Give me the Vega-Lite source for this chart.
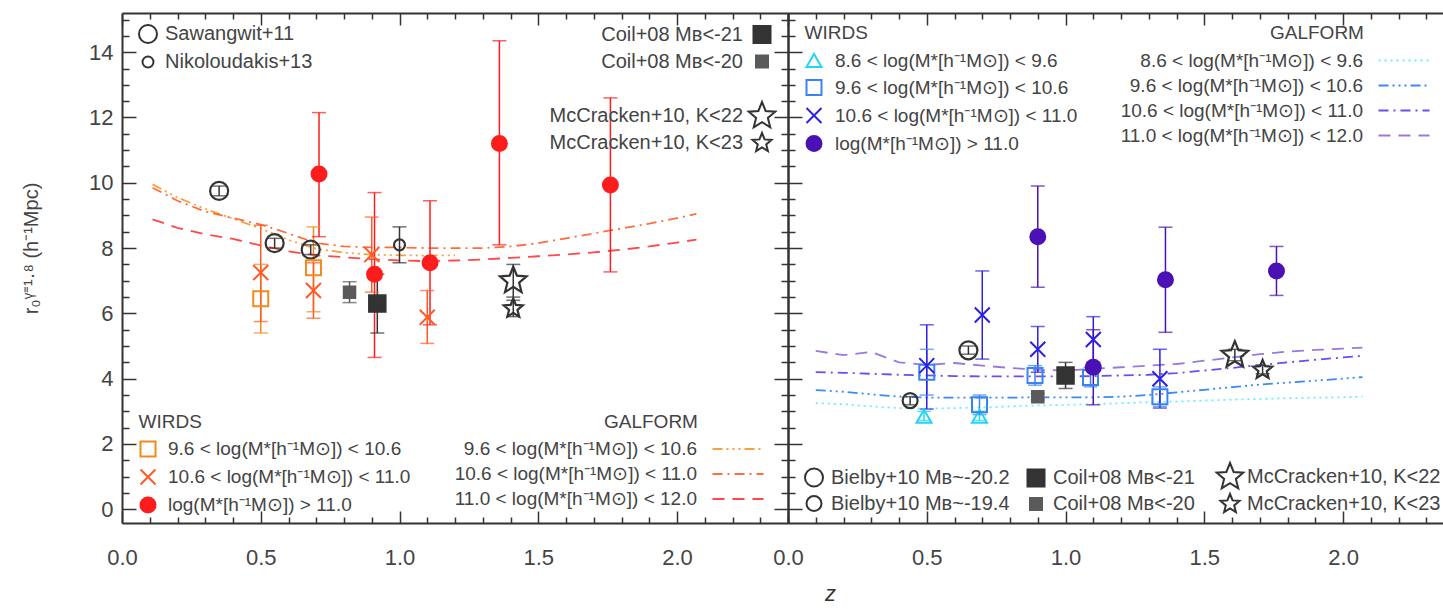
{
"$schema": "https://vega.github.io/schema/vega-lite/v6.json",
"padding": {"left": 21, "top": 8, "right": 0, "bottom": 0},
"datasets": {
"pts": [
{"panel":"L","series":"Sawangwit+11","z":0.35,"r":9.75,"lo":9.6,"hi":9.9},
{"panel":"L","series":"Sawangwit+11","z":0.55,"r":8.15,"lo":8.0,"hi":8.3},
{"panel":"L","series":"Sawangwit+11","z":0.68,"r":7.95,"lo":7.8,"hi":8.1},
{"panel":"L","series":"Nikoloudakis+13","z":1.0,"r":8.1,"lo":7.55,"hi":8.65},
{"panel":"L","series":"Coil+08 Mʙ<-21","z":0.92,"r":6.3,"lo":5.4,"hi":7.2},
{"panel":"L","series":"Coil+08 Mʙ<-20","z":0.82,"r":6.65,"lo":6.33,"hi":6.97},
{"panel":"L","series":"McCracken+10, K<22","z":1.41,"r":7.0,"lo":6.5,"hi":7.5},
{"panel":"L","series":"McCracken+10, K<23","z":1.41,"r":6.15,"lo":5.9,"hi":6.4},
{"panel":"L","series":"9.6 < log(M*[h⁻¹M⊙]) < 10.6","z":0.5,"r":6.45,"lo":5.4,"hi":7.5},
{"panel":"L","series":"9.6 < log(M*[h⁻¹M⊙]) < 10.6","z":0.69,"r":7.4,"lo":6.05,"hi":8.65},
{"panel":"L","series":"10.6 < log(M*[h⁻¹M⊙]) < 11.0","z":0.5,"r":7.25,"lo":5.75,"hi":8.7},
{"panel":"L","series":"10.6 < log(M*[h⁻¹M⊙]) < 11.0","z":0.69,"r":6.7,"lo":5.85,"hi":7.55},
{"panel":"L","series":"10.6 < log(M*[h⁻¹M⊙]) < 11.0","z":0.9,"r":7.8,"lo":6.65,"hi":8.95},
{"panel":"L","series":"10.6 < log(M*[h⁻¹M⊙]) < 11.0","z":1.1,"r":5.88,"lo":5.08,"hi":6.7},
{"panel":"L","series":"log(M*[h⁻¹M⊙]) > 11.0","z":0.71,"r":10.27,"lo":8.35,"hi":12.15},
{"panel":"L","series":"log(M*[h⁻¹M⊙]) > 11.0","z":0.91,"r":7.2,"lo":4.65,"hi":9.7},
{"panel":"L","series":"log(M*[h⁻¹M⊙]) > 11.0","z":1.11,"r":7.55,"lo":5.65,"hi":9.45},
{"panel":"L","series":"log(M*[h⁻¹M⊙]) > 11.0","z":1.36,"r":11.2,"lo":8.1,"hi":14.35},
{"panel":"L","series":"log(M*[h⁻¹M⊙]) > 11.0","z":1.76,"r":9.93,"lo":7.27,"hi":12.6},
{"panel":"R","series":"8.6 < log(M*[h⁻¹M⊙]) <  9.6","z":0.49,"r":2.85,"lo":2.72,"hi":3.0},
{"panel":"R","series":"8.6 < log(M*[h⁻¹M⊙]) <  9.6","z":0.69,"r":2.85,"lo":2.72,"hi":3.0},
{"panel":"R","series":"9.6 < log(M*[h⁻¹M⊙]) < 10.6","z":0.5,"r":4.2,"lo":3.5,"hi":4.9},
{"panel":"R","series":"9.6 < log(M*[h⁻¹M⊙]) < 10.6","z":0.69,"r":3.2,"lo":2.9,"hi":3.5},
{"panel":"R","series":"9.6 < log(M*[h⁻¹M⊙]) < 10.6","z":0.89,"r":4.1,"lo":3.8,"hi":4.4},
{"panel":"R","series":"9.6 < log(M*[h⁻¹M⊙]) < 10.6","z":1.09,"r":4.04,"lo":3.75,"hi":4.35},
{"panel":"R","series":"9.6 < log(M*[h⁻¹M⊙]) < 10.6","z":1.34,"r":3.45,"lo":3.15,"hi":3.75},
{"panel":"R","series":"10.6 < log(M*[h⁻¹M⊙]) < 11.0","z":0.5,"r":4.4,"lo":3.07,"hi":5.65},
{"panel":"R","series":"10.6 < log(M*[h⁻¹M⊙]) < 11.0","z":0.7,"r":5.95,"lo":4.6,"hi":7.3},
{"panel":"R","series":"10.6 < log(M*[h⁻¹M⊙]) < 11.0","z":0.9,"r":4.9,"lo":4.2,"hi":5.6},
{"panel":"R","series":"10.6 < log(M*[h⁻¹M⊙]) < 11.0","z":1.1,"r":5.2,"lo":4.5,"hi":5.9},
{"panel":"R","series":"10.6 < log(M*[h⁻¹M⊙]) < 11.0","z":1.34,"r":4.0,"lo":3.1,"hi":4.9},
{"panel":"R","series":"log(M*[h⁻¹M⊙]) > 11.0","z":0.9,"r":8.35,"lo":6.8,"hi":9.9},
{"panel":"R","series":"log(M*[h⁻¹M⊙]) > 11.0","z":1.1,"r":4.35,"lo":3.2,"hi":5.5},
{"panel":"R","series":"log(M*[h⁻¹M⊙]) > 11.0","z":1.36,"r":7.03,"lo":5.42,"hi":8.64},
{"panel":"R","series":"log(M*[h⁻¹M⊙]) > 11.0","z":1.76,"r":7.3,"lo":6.55,"hi":8.05},
{"panel":"R","series":"Bielby+10 Mʙ~-20.2","z":0.65,"r":4.87,"lo":4.75,"hi":5.0},
{"panel":"R","series":"Bielby+10 Mʙ~-19.4","z":0.44,"r":3.33,"lo":3.2,"hi":3.45},
{"panel":"R","series":"Coil+08 Mʙ<-21","z":1.0,"r":4.1,"lo":3.7,"hi":4.5},
{"panel":"R","series":"Coil+08 Mʙ<-20","z":0.9,"r":3.45,"lo":3.35,"hi":3.55},
{"panel":"R","series":"McCracken+10, K<22","z":1.61,"r":4.72,"lo":4.55,"hi":4.9},
{"panel":"R","series":"McCracken+10, K<23","z":1.71,"r":4.27,"lo":4.15,"hi":4.4}
],
"lines": [
{"panel":"L","series":"9.6 < log(M*[h⁻¹M⊙]) < 10.6","z":0.11,"r":9.95},
{"panel":"L","series":"9.6 < log(M*[h⁻¹M⊙]) < 10.6","z":0.2,"r":9.55},
{"panel":"L","series":"9.6 < log(M*[h⁻¹M⊙]) < 10.6","z":0.3,"r":9.2},
{"panel":"L","series":"9.6 < log(M*[h⁻¹M⊙]) < 10.6","z":0.4,"r":8.9},
{"panel":"L","series":"9.6 < log(M*[h⁻¹M⊙]) < 10.6","z":0.5,"r":8.6},
{"panel":"L","series":"9.6 < log(M*[h⁻¹M⊙]) < 10.6","z":0.6,"r":8.25},
{"panel":"L","series":"9.6 < log(M*[h⁻¹M⊙]) < 10.6","z":0.7,"r":7.98},
{"panel":"L","series":"9.6 < log(M*[h⁻¹M⊙]) < 10.6","z":0.8,"r":7.86},
{"panel":"L","series":"9.6 < log(M*[h⁻¹M⊙]) < 10.6","z":0.9,"r":7.8},
{"panel":"L","series":"9.6 < log(M*[h⁻¹M⊙]) < 10.6","z":1.0,"r":7.78},
{"panel":"L","series":"9.6 < log(M*[h⁻¹M⊙]) < 10.6","z":1.1,"r":7.77},
{"panel":"L","series":"9.6 < log(M*[h⁻¹M⊙]) < 10.6","z":1.2,"r":7.78},
{"panel":"L","series":"10.6 < log(M*[h⁻¹M⊙]) < 11.0","z":0.11,"r":9.85},
{"panel":"L","series":"10.6 < log(M*[h⁻¹M⊙]) < 11.0","z":0.2,"r":9.45},
{"panel":"L","series":"10.6 < log(M*[h⁻¹M⊙]) < 11.0","z":0.3,"r":9.12},
{"panel":"L","series":"10.6 < log(M*[h⁻¹M⊙]) < 11.0","z":0.4,"r":8.92},
{"panel":"L","series":"10.6 < log(M*[h⁻¹M⊙]) < 11.0","z":0.5,"r":8.72},
{"panel":"L","series":"10.6 < log(M*[h⁻¹M⊙]) < 11.0","z":0.6,"r":8.45},
{"panel":"L","series":"10.6 < log(M*[h⁻¹M⊙]) < 11.0","z":0.7,"r":8.15},
{"panel":"L","series":"10.6 < log(M*[h⁻¹M⊙]) < 11.0","z":0.8,"r":8.05},
{"panel":"L","series":"10.6 < log(M*[h⁻¹M⊙]) < 11.0","z":0.9,"r":8.02},
{"panel":"L","series":"10.6 < log(M*[h⁻¹M⊙]) < 11.0","z":1.0,"r":8.02},
{"panel":"L","series":"10.6 < log(M*[h⁻¹M⊙]) < 11.0","z":1.1,"r":8.0},
{"panel":"L","series":"10.6 < log(M*[h⁻¹M⊙]) < 11.0","z":1.2,"r":8.0},
{"panel":"L","series":"10.6 < log(M*[h⁻¹M⊙]) < 11.0","z":1.3,"r":8.0},
{"panel":"L","series":"10.6 < log(M*[h⁻¹M⊙]) < 11.0","z":1.4,"r":8.05},
{"panel":"L","series":"10.6 < log(M*[h⁻¹M⊙]) < 11.0","z":1.5,"r":8.15},
{"panel":"L","series":"10.6 < log(M*[h⁻¹M⊙]) < 11.0","z":1.6,"r":8.3},
{"panel":"L","series":"10.6 < log(M*[h⁻¹M⊙]) < 11.0","z":1.7,"r":8.45},
{"panel":"L","series":"10.6 < log(M*[h⁻¹M⊙]) < 11.0","z":1.8,"r":8.6},
{"panel":"L","series":"10.6 < log(M*[h⁻¹M⊙]) < 11.0","z":1.9,"r":8.75},
{"panel":"L","series":"10.6 < log(M*[h⁻¹M⊙]) < 11.0","z":2.0,"r":8.92},
{"panel":"L","series":"10.6 < log(M*[h⁻¹M⊙]) < 11.0","z":2.07,"r":9.05},
{"panel":"L","series":"11.0 < log(M*[h⁻¹M⊙]) < 12.0","z":0.11,"r":8.88},
{"panel":"L","series":"11.0 < log(M*[h⁻¹M⊙]) < 12.0","z":0.2,"r":8.62},
{"panel":"L","series":"11.0 < log(M*[h⁻¹M⊙]) < 12.0","z":0.3,"r":8.42},
{"panel":"L","series":"11.0 < log(M*[h⁻¹M⊙]) < 12.0","z":0.4,"r":8.28},
{"panel":"L","series":"11.0 < log(M*[h⁻¹M⊙]) < 12.0","z":0.5,"r":8.08},
{"panel":"L","series":"11.0 < log(M*[h⁻¹M⊙]) < 12.0","z":0.6,"r":7.9},
{"panel":"L","series":"11.0 < log(M*[h⁻¹M⊙]) < 12.0","z":0.7,"r":7.78},
{"panel":"L","series":"11.0 < log(M*[h⁻¹M⊙]) < 12.0","z":0.8,"r":7.72},
{"panel":"L","series":"11.0 < log(M*[h⁻¹M⊙]) < 12.0","z":0.9,"r":7.66},
{"panel":"L","series":"11.0 < log(M*[h⁻¹M⊙]) < 12.0","z":1.0,"r":7.62},
{"panel":"L","series":"11.0 < log(M*[h⁻¹M⊙]) < 12.0","z":1.1,"r":7.6},
{"panel":"L","series":"11.0 < log(M*[h⁻¹M⊙]) < 12.0","z":1.2,"r":7.62},
{"panel":"L","series":"11.0 < log(M*[h⁻¹M⊙]) < 12.0","z":1.3,"r":7.65},
{"panel":"L","series":"11.0 < log(M*[h⁻¹M⊙]) < 12.0","z":1.4,"r":7.7},
{"panel":"L","series":"11.0 < log(M*[h⁻¹M⊙]) < 12.0","z":1.5,"r":7.75},
{"panel":"L","series":"11.0 < log(M*[h⁻¹M⊙]) < 12.0","z":1.6,"r":7.8},
{"panel":"L","series":"11.0 < log(M*[h⁻¹M⊙]) < 12.0","z":1.7,"r":7.87},
{"panel":"L","series":"11.0 < log(M*[h⁻¹M⊙]) < 12.0","z":1.8,"r":7.95},
{"panel":"L","series":"11.0 < log(M*[h⁻¹M⊙]) < 12.0","z":1.9,"r":8.05},
{"panel":"L","series":"11.0 < log(M*[h⁻¹M⊙]) < 12.0","z":2.0,"r":8.17},
{"panel":"L","series":"11.0 < log(M*[h⁻¹M⊙]) < 12.0","z":2.07,"r":8.26},
{"panel":"R","series":"8.6 < log(M*[h⁻¹M⊙]) <  9.6","z":0.1,"r":3.25},
{"panel":"R","series":"8.6 < log(M*[h⁻¹M⊙]) <  9.6","z":0.2,"r":3.22},
{"panel":"R","series":"8.6 < log(M*[h⁻¹M⊙]) <  9.6","z":0.3,"r":3.15},
{"panel":"R","series":"8.6 < log(M*[h⁻¹M⊙]) <  9.6","z":0.4,"r":3.1},
{"panel":"R","series":"8.6 < log(M*[h⁻¹M⊙]) <  9.6","z":0.5,"r":3.08},
{"panel":"R","series":"8.6 < log(M*[h⁻¹M⊙]) <  9.6","z":0.6,"r":3.1},
{"panel":"R","series":"8.6 < log(M*[h⁻¹M⊙]) <  9.6","z":0.7,"r":3.12},
{"panel":"R","series":"8.6 < log(M*[h⁻¹M⊙]) <  9.6","z":0.8,"r":3.15},
{"panel":"R","series":"8.6 < log(M*[h⁻¹M⊙]) <  9.6","z":0.9,"r":3.18},
{"panel":"R","series":"8.6 < log(M*[h⁻¹M⊙]) <  9.6","z":1.0,"r":3.2},
{"panel":"R","series":"8.6 < log(M*[h⁻¹M⊙]) <  9.6","z":1.1,"r":3.22},
{"panel":"R","series":"8.6 < log(M*[h⁻¹M⊙]) <  9.6","z":1.2,"r":3.25},
{"panel":"R","series":"8.6 < log(M*[h⁻¹M⊙]) <  9.6","z":1.3,"r":3.28},
{"panel":"R","series":"8.6 < log(M*[h⁻¹M⊙]) <  9.6","z":1.4,"r":3.3},
{"panel":"R","series":"8.6 < log(M*[h⁻¹M⊙]) <  9.6","z":1.5,"r":3.33},
{"panel":"R","series":"8.6 < log(M*[h⁻¹M⊙]) <  9.6","z":1.6,"r":3.36},
{"panel":"R","series":"8.6 < log(M*[h⁻¹M⊙]) <  9.6","z":1.7,"r":3.38},
{"panel":"R","series":"8.6 < log(M*[h⁻¹M⊙]) <  9.6","z":1.8,"r":3.4},
{"panel":"R","series":"8.6 < log(M*[h⁻¹M⊙]) <  9.6","z":1.9,"r":3.42},
{"panel":"R","series":"8.6 < log(M*[h⁻¹M⊙]) <  9.6","z":2.0,"r":3.43},
{"panel":"R","series":"8.6 < log(M*[h⁻¹M⊙]) <  9.6","z":2.07,"r":3.45},
{"panel":"R","series":"9.6 < log(M*[h⁻¹M⊙]) < 10.6","z":0.1,"r":3.65},
{"panel":"R","series":"9.6 < log(M*[h⁻¹M⊙]) < 10.6","z":0.2,"r":3.6},
{"panel":"R","series":"9.6 < log(M*[h⁻¹M⊙]) < 10.6","z":0.3,"r":3.52},
{"panel":"R","series":"9.6 < log(M*[h⁻¹M⊙]) < 10.6","z":0.4,"r":3.45},
{"panel":"R","series":"9.6 < log(M*[h⁻¹M⊙]) < 10.6","z":0.5,"r":3.42},
{"panel":"R","series":"9.6 < log(M*[h⁻¹M⊙]) < 10.6","z":0.6,"r":3.42},
{"panel":"R","series":"9.6 < log(M*[h⁻¹M⊙]) < 10.6","z":0.7,"r":3.42},
{"panel":"R","series":"9.6 < log(M*[h⁻¹M⊙]) < 10.6","z":0.8,"r":3.42},
{"panel":"R","series":"9.6 < log(M*[h⁻¹M⊙]) < 10.6","z":0.9,"r":3.43},
{"panel":"R","series":"9.6 < log(M*[h⁻¹M⊙]) < 10.6","z":1.0,"r":3.43},
{"panel":"R","series":"9.6 < log(M*[h⁻¹M⊙]) < 10.6","z":1.1,"r":3.43},
{"panel":"R","series":"9.6 < log(M*[h⁻¹M⊙]) < 10.6","z":1.2,"r":3.45},
{"panel":"R","series":"9.6 < log(M*[h⁻¹M⊙]) < 10.6","z":1.3,"r":3.5},
{"panel":"R","series":"9.6 < log(M*[h⁻¹M⊙]) < 10.6","z":1.4,"r":3.58},
{"panel":"R","series":"9.6 < log(M*[h⁻¹M⊙]) < 10.6","z":1.5,"r":3.66},
{"panel":"R","series":"9.6 < log(M*[h⁻¹M⊙]) < 10.6","z":1.6,"r":3.74},
{"panel":"R","series":"9.6 < log(M*[h⁻¹M⊙]) < 10.6","z":1.7,"r":3.82},
{"panel":"R","series":"9.6 < log(M*[h⁻¹M⊙]) < 10.6","z":1.8,"r":3.88},
{"panel":"R","series":"9.6 < log(M*[h⁻¹M⊙]) < 10.6","z":1.9,"r":3.94},
{"panel":"R","series":"9.6 < log(M*[h⁻¹M⊙]) < 10.6","z":2.0,"r":4.0},
{"panel":"R","series":"9.6 < log(M*[h⁻¹M⊙]) < 10.6","z":2.07,"r":4.05},
{"panel":"R","series":"10.6 < log(M*[h⁻¹M⊙]) < 11.0","z":0.1,"r":4.2},
{"panel":"R","series":"10.6 < log(M*[h⁻¹M⊙]) < 11.0","z":0.2,"r":4.18},
{"panel":"R","series":"10.6 < log(M*[h⁻¹M⊙]) < 11.0","z":0.3,"r":4.15},
{"panel":"R","series":"10.6 < log(M*[h⁻¹M⊙]) < 11.0","z":0.4,"r":4.12},
{"panel":"R","series":"10.6 < log(M*[h⁻¹M⊙]) < 11.0","z":0.5,"r":4.1},
{"panel":"R","series":"10.6 < log(M*[h⁻¹M⊙]) < 11.0","z":0.6,"r":4.08},
{"panel":"R","series":"10.6 < log(M*[h⁻¹M⊙]) < 11.0","z":0.7,"r":4.07},
{"panel":"R","series":"10.6 < log(M*[h⁻¹M⊙]) < 11.0","z":0.8,"r":4.07},
{"panel":"R","series":"10.6 < log(M*[h⁻¹M⊙]) < 11.0","z":0.9,"r":4.07},
{"panel":"R","series":"10.6 < log(M*[h⁻¹M⊙]) < 11.0","z":1.0,"r":4.07},
{"panel":"R","series":"10.6 < log(M*[h⁻¹M⊙]) < 11.0","z":1.1,"r":4.08},
{"panel":"R","series":"10.6 < log(M*[h⁻¹M⊙]) < 11.0","z":1.2,"r":4.1},
{"panel":"R","series":"10.6 < log(M*[h⁻¹M⊙]) < 11.0","z":1.3,"r":4.12},
{"panel":"R","series":"10.6 < log(M*[h⁻¹M⊙]) < 11.0","z":1.4,"r":4.17},
{"panel":"R","series":"10.6 < log(M*[h⁻¹M⊙]) < 11.0","z":1.5,"r":4.25},
{"panel":"R","series":"10.6 < log(M*[h⁻¹M⊙]) < 11.0","z":1.6,"r":4.33},
{"panel":"R","series":"10.6 < log(M*[h⁻¹M⊙]) < 11.0","z":1.7,"r":4.42},
{"panel":"R","series":"10.6 < log(M*[h⁻¹M⊙]) < 11.0","z":1.8,"r":4.5},
{"panel":"R","series":"10.6 < log(M*[h⁻¹M⊙]) < 11.0","z":1.9,"r":4.58},
{"panel":"R","series":"10.6 < log(M*[h⁻¹M⊙]) < 11.0","z":2.0,"r":4.65},
{"panel":"R","series":"10.6 < log(M*[h⁻¹M⊙]) < 11.0","z":2.07,"r":4.7},
{"panel":"R","series":"11.0 < log(M*[h⁻¹M⊙]) < 12.0","z":0.1,"r":4.85},
{"panel":"R","series":"11.0 < log(M*[h⁻¹M⊙]) < 12.0","z":0.2,"r":4.72},
{"panel":"R","series":"11.0 < log(M*[h⁻¹M⊙]) < 12.0","z":0.3,"r":4.82},
{"panel":"R","series":"11.0 < log(M*[h⁻¹M⊙]) < 12.0","z":0.4,"r":4.5},
{"panel":"R","series":"11.0 < log(M*[h⁻¹M⊙]) < 12.0","z":0.5,"r":4.42},
{"panel":"R","series":"11.0 < log(M*[h⁻¹M⊙]) < 12.0","z":0.6,"r":4.48},
{"panel":"R","series":"11.0 < log(M*[h⁻¹M⊙]) < 12.0","z":0.7,"r":4.4},
{"panel":"R","series":"11.0 < log(M*[h⁻¹M⊙]) < 12.0","z":0.8,"r":4.33},
{"panel":"R","series":"11.0 < log(M*[h⁻¹M⊙]) < 12.0","z":0.9,"r":4.27},
{"panel":"R","series":"11.0 < log(M*[h⁻¹M⊙]) < 12.0","z":1.0,"r":4.25},
{"panel":"R","series":"11.0 < log(M*[h⁻¹M⊙]) < 12.0","z":1.1,"r":4.3},
{"panel":"R","series":"11.0 < log(M*[h⁻¹M⊙]) < 12.0","z":1.2,"r":4.35},
{"panel":"R","series":"11.0 < log(M*[h⁻¹M⊙]) < 12.0","z":1.3,"r":4.4},
{"panel":"R","series":"11.0 < log(M*[h⁻¹M⊙]) < 12.0","z":1.4,"r":4.45},
{"panel":"R","series":"11.0 < log(M*[h⁻¹M⊙]) < 12.0","z":1.5,"r":4.55},
{"panel":"R","series":"11.0 < log(M*[h⁻¹M⊙]) < 12.0","z":1.6,"r":4.65},
{"panel":"R","series":"11.0 < log(M*[h⁻¹M⊙]) < 12.0","z":1.7,"r":4.75},
{"panel":"R","series":"11.0 < log(M*[h⁻¹M⊙]) < 12.0","z":1.8,"r":4.83},
{"panel":"R","series":"11.0 < log(M*[h⁻¹M⊙]) < 12.0","z":1.9,"r":4.88},
{"panel":"R","series":"11.0 < log(M*[h⁻¹M⊙]) < 12.0","z":2.0,"r":4.92},
{"panel":"R","series":"11.0 < log(M*[h⁻¹M⊙]) < 12.0","z":2.07,"r":4.95}
]
},
"spacing": 0,
"bounds": "flush",
"resolve": {
"scale": {"color":"independent","stroke":"independent","fill":"independent","shape":"independent","size":"independent","strokeDash":"independent"},
"legend": {"color":"independent","stroke":"independent","fill":"independent","shape":"independent","size":"independent","strokeDash":"independent"}
},
"hconcat": [
{
"width": 666, "height": 510,
"resolve": {
"scale": {"color":"independent","stroke":"independent","fill":"independent","shape":"independent","size":"independent","strokeDash":"independent"},
"legend": {"color":"independent","stroke":"independent","fill":"independent","shape":"independent","size":"independent","strokeDash":"independent"},
"axis": {"x":"independent","y":"independent"}
},
"layer": [
{
"data": {"name":"lines"},
"transform": [{"filter":"datum.panel == 'L'"}],
"mark": {"type":"line","strokeWidth":1.8},
"encoding": {
"x": {"field":"z","type":"quantitative","scale":{"domain":[0,2.4],"nice":false,"zero":false},
 "axis":{"orient":"top","labels":false,"title":null,"values":[0,0.1,0.2,0.3,0.4,0.5,0.6,0.7,0.8,0.9,1,1.1,1.2,1.3,1.4,1.5,1.6,1.7,1.8,1.9,2,2.1,2.2,2.3,2.4],
 "tickSize":{"condition":{"test":"round(datum.value*10)%5==0","value":-12},"value":-6}}},
"y": {"field":"r","type":"quantitative","scale":{"domain":[-0.42,15.2],"nice":false,"zero":false},
 "axis":{"orient":"right","labels":false,"title":null,"values":[0,0.5,1,1.5,2,2.5,3,3.5,4,4.5,5,5.5,6,6.5,7,7.5,8,8.5,9,9.5,10,10.5,11,11.5,12,12.5,13,13.5,14,14.5,15],
 "tickSize":{"condition":{"test":"datum.value%2==0","value":-14},"value":-7}}},
"stroke": {"field":"series","type":"nominal",
 "scale":{"domain":["9.6 < log(M*[h⁻¹M⊙]) < 10.6","10.6 < log(M*[h⁻¹M⊙]) < 11.0","11.0 < log(M*[h⁻¹M⊙]) < 12.0"],"range":["#f8a040","#ff6e3a","#ff4848"]},
 "legend":{"title":"GALFORM","orient":"none","legendX":482,"legendY":399.5,"labelAlign":"right","labelOffset":-50.5,"symbolOffset":124.5,"rowPadding":5,"titlePadding":8,"symbolType":"M-3,0H3","symbolSize":289,"symbolStrokeWidth":2,"labelFontSize":19,"titleFontSize":19}},
"strokeDash": {"field":"series","type":"nominal",
 "scale":{"domain":["9.6 < log(M*[h⁻¹M⊙]) < 10.6","10.6 < log(M*[h⁻¹M⊙]) < 11.0","11.0 < log(M*[h⁻¹M⊙]) < 12.0"],"range":[[10,4,2,4,2,4,2,4],[10,5,2,5],[12,8]]}}
}
},
{
"data": {"name":"pts"},
"transform": [{"filter":"datum.panel == 'L'"}],
"mark": {"type":"rule","strokeWidth":1.5},
"encoding": {
"x": {"field":"z","type":"quantitative","scale":{"domain":[0,2.4],"nice":false,"zero":false},
 "axis":{"orient":"bottom","title":null,"values":[0,0.1,0.2,0.3,0.4,0.5,0.6,0.7,0.8,0.9,1,1.1,1.2,1.3,1.4,1.5,1.6,1.7,1.8,1.9,2,2.1,2.2,2.3,2.4],
 "labelExpr":"round(datum.value*10)%5==0 ? format(datum.value,'.1f') : ''",
 "tickSize":{"condition":{"test":"round(datum.value*10)%5==0","value":-12},"value":-6},
 "labelPadding":36,"labelAngle":0}},
"y": {"field":"lo","type":"quantitative","scale":{"domain":[-0.42,15.2],"nice":false,"zero":false},
 "axis":{"orient":"left","title":"r₀ᵞ⁼¹·⁸ (h⁻¹Mpc)","titleFontSize":20,"titlePadding":47,"titleY":235,"values":[0,0.5,1,1.5,2,2.5,3,3.5,4,4.5,5,5.5,6,6.5,7,7.5,8,8.5,9,9.5,10,10.5,11,11.5,12,12.5,13,13.5,14,14.5,15],
 "labelExpr":"datum.value%2==0 ? datum.value : ''",
 "tickSize":{"condition":{"test":"datum.value%2==0","value":-14},"value":-7},
 "labelPadding":23}},
"y2": {"field":"hi"},
"color": {"field":"series","type":"nominal","legend":null,
 "scale":{"domain":["Sawangwit+11","Nikoloudakis+13","Coil+08 Mʙ<-21","Coil+08 Mʙ<-20","McCracken+10, K<22","McCracken+10, K<23","9.6 < log(M*[h⁻¹M⊙]) < 10.6","10.6 < log(M*[h⁻¹M⊙]) < 11.0","log(M*[h⁻¹M⊙]) > 11.0"],
 "range":["#333333","#333333","#333333","#555555","#333333","#333333","#f28a1e","#ff5a26","#ff1c1c"]}}
}
},
{
"data": {"name":"pts"},
"transform": [{"filter":"datum.panel == 'L'"}],
"mark": {"type":"tick","orient":"horizontal","size":14,"thickness":1.5},
"encoding": {
"x": {"field":"z","type":"quantitative","scale":{"domain":[0,2.4],"nice":false,"zero":false},"axis":null},
"y": {"field":"lo","type":"quantitative","scale":{"domain":[-0.42,15.2],"nice":false,"zero":false},"axis":null},
"color": {"field":"series","type":"nominal","legend":null,
 "scale":{"domain":["Sawangwit+11","Nikoloudakis+13","Coil+08 Mʙ<-21","Coil+08 Mʙ<-20","McCracken+10, K<22","McCracken+10, K<23","9.6 < log(M*[h⁻¹M⊙]) < 10.6","10.6 < log(M*[h⁻¹M⊙]) < 11.0","log(M*[h⁻¹M⊙]) > 11.0"],
 "range":["#333333","#333333","#333333","#555555","#333333","#333333","#f28a1e","#ff5a26","#ff1c1c"]}}
}
},
{
"data": {"name":"pts"},
"transform": [{"filter":"datum.panel == 'L'"}],
"mark": {"type":"tick","orient":"horizontal","size":14,"thickness":1.5},
"encoding": {
"x": {"field":"z","type":"quantitative","scale":{"domain":[0,2.4],"nice":false,"zero":false},"axis":null},
"y": {"field":"hi","type":"quantitative","scale":{"domain":[-0.42,15.2],"nice":false,"zero":false},"axis":null},
"color": {"field":"series","type":"nominal","legend":null,
 "scale":{"domain":["Sawangwit+11","Nikoloudakis+13","Coil+08 Mʙ<-21","Coil+08 Mʙ<-20","McCracken+10, K<22","McCracken+10, K<23","9.6 < log(M*[h⁻¹M⊙]) < 10.6","10.6 < log(M*[h⁻¹M⊙]) < 11.0","log(M*[h⁻¹M⊙]) > 11.0"],
 "range":["#333333","#333333","#333333","#555555","#333333","#333333","#f28a1e","#ff5a26","#ff1c1c"]}}
}
},
{
"data": {"name":"pts"},
"transform": [{"filter":"datum.panel == 'L'"},{"filter":{"field":"series","oneOf":["Sawangwit+11","Nikoloudakis+13"]}}],
"mark": {"type":"point","strokeWidth":2.2,"opacity":1},
"encoding": {
"x": {"field":"z","type":"quantitative","scale":{"domain":[0,2.4],"nice":false,"zero":false},"axis":null},
"y": {"field":"r","type":"quantitative","scale":{"domain":[-0.42,15.2],"nice":false,"zero":false},"axis":null},
"shape": {"field":"series","type":"nominal","scale":{"domain":["Sawangwit+11","Nikoloudakis+13"],"range":["circle","circle"]},
 "legend":{"title":null,"orient":"none","legendX":16,"legendY":11,"labelOffset":7,"rowPadding":5,"labelFontSize":20}},
"size": {"field":"series","type":"nominal","scale":{"type":"point","domain":["Sawangwit+11","Nikoloudakis+13"],"range":[324,121],"padding":0}},
"stroke": {"field":"series","type":"nominal","scale":{"domain":["Sawangwit+11","Nikoloudakis+13"],"range":["#333333","#333333"]}},
"fill": {"field":"series","type":"nominal","scale":{"domain":["Sawangwit+11","Nikoloudakis+13"],"range":["transparent","transparent"]}}
}
},
{
"data": {"name":"pts"},
"transform": [{"filter":"datum.panel == 'L'"},{"filter":{"field":"series","oneOf":["Coil+08 Mʙ<-21","Coil+08 Mʙ<-20"]}}],
"mark": {"type":"point","strokeWidth":1.5,"opacity":1},
"encoding": {
"x": {"field":"z","type":"quantitative","scale":{"domain":[0,2.4],"nice":false,"zero":false},"axis":null},
"y": {"field":"r","type":"quantitative","scale":{"domain":[-0.42,15.2],"nice":false,"zero":false},"axis":null},
"shape": {"field":"series","type":"nominal","scale":{"domain":["Coil+08 Mʙ<-21","Coil+08 Mʙ<-20"],"range":["square","square"]},
 "legend":{"title":null,"orient":"none","legendX":630,"legendY":11.5,"labelAlign":"right","labelOffset":-29,"rowPadding":4,"labelFontSize":20}},
"size": {"field":"series","type":"nominal","scale":{"type":"point","domain":["Coil+08 Mʙ<-21","Coil+08 Mʙ<-20"],"range":[289,144],"padding":0}},
"stroke": {"field":"series","type":"nominal","scale":{"domain":["Coil+08 Mʙ<-21","Coil+08 Mʙ<-20"],"range":["#333333","#5a5a5a"]}},
"fill": {"field":"series","type":"nominal","scale":{"domain":["Coil+08 Mʙ<-21","Coil+08 Mʙ<-20"],"range":["#333333","#5a5a5a"]}}
}
},
{
"data": {"name":"pts"},
"transform": [{"filter":"datum.panel == 'L'"},{"filter":{"field":"series","oneOf":["McCracken+10, K<22","McCracken+10, K<23"]}}],
"mark": {"type":"point","strokeWidth":2.2,"opacity":1},
"encoding": {
"x": {"field":"z","type":"quantitative","scale":{"domain":[0,2.4],"nice":false,"zero":false},"axis":null},
"y": {"field":"r","type":"quantitative","scale":{"domain":[-0.42,15.2],"nice":false,"zero":false},"axis":null},
"shape": {"field":"series","type":"nominal","scale":{"domain":["McCracken+10, K<22","McCracken+10, K<23"],"range":["M0,-1L0.26,-0.36L0.95,-0.31L0.42,0.14L0.59,0.81L0,0.44L-0.59,0.81L-0.42,0.14L-0.95,-0.31L-0.26,-0.36Z","M0,-1L0.26,-0.36L0.95,-0.31L0.42,0.14L0.59,0.81L0,0.44L-0.59,0.81L-0.42,0.14L-0.95,-0.31L-0.26,-0.36Z"]},
 "legend":{"title":null,"orient":"none","legendX":625,"legendY":88,"labelAlign":"right","labelOffset":-34,"rowPadding":-5,"labelFontSize":20}},
"size": {"field":"series","type":"nominal","scale":{"type":"point","domain":["McCracken+10, K<22","McCracken+10, K<23"],"range":[784,400],"padding":0}},
"stroke": {"field":"series","type":"nominal","scale":{"domain":["McCracken+10, K<22","McCracken+10, K<23"],"range":["#333333","#333333"]}},
"fill": {"field":"series","type":"nominal","scale":{"domain":["McCracken+10, K<22","McCracken+10, K<23"],"range":["transparent","transparent"]}}
}
},
{
"data": {"name":"pts"},
"transform": [{"filter":"datum.panel == 'L'"},{"filter":{"field":"series","oneOf":["9.6 < log(M*[h⁻¹M⊙]) < 10.6","10.6 < log(M*[h⁻¹M⊙]) < 11.0","log(M*[h⁻¹M⊙]) > 11.0"]}}],
"mark": {"type":"point","strokeWidth":2,"opacity":1,"size":225},
"encoding": {
"x": {"field":"z","type":"quantitative","scale":{"domain":[0,2.4],"nice":false,"zero":false},"axis":null},
"y": {"field":"r","type":"quantitative","scale":{"domain":[-0.42,15.2],"nice":false,"zero":false},"axis":null},
"shape": {"field":"series","type":"nominal","scale":{"domain":["9.6 < log(M*[h⁻¹M⊙]) < 10.6","10.6 < log(M*[h⁻¹M⊙]) < 11.0","log(M*[h⁻¹M⊙]) > 11.0"],"range":["square","M-1,-1L1,1M-1,1L1,-1","circle"]},
 "legend":{"title":"\u00a0\u00a0\u00a0\u00a0\u00a0WIRDS","orient":"none","legendX":16.5,"legendY":399.5,"labelOffset":10.5,"rowPadding":5,"titlePadding":8,"symbolSize":225,"labelFontSize":19,"titleFontSize":19}},
"stroke": {"field":"series","type":"nominal","scale":{"domain":["9.6 < log(M*[h⁻¹M⊙]) < 10.6","10.6 < log(M*[h⁻¹M⊙]) < 11.0","log(M*[h⁻¹M⊙]) > 11.0"],"range":["#f28a1e","#ff5a26","#ff1c1c"]}},
"fill": {"field":"series","type":"nominal","scale":{"domain":["9.6 < log(M*[h⁻¹M⊙]) < 10.6","10.6 < log(M*[h⁻¹M⊙]) < 11.0","log(M*[h⁻¹M⊙]) > 11.0"],"range":["transparent","transparent","#ff1c1c"]}}
}
}
]
},
{
"width": 655, "height": 510,
"resolve": {
"scale": {"color":"independent","stroke":"independent","fill":"independent","shape":"independent","size":"independent","strokeDash":"independent"},
"legend": {"color":"independent","stroke":"independent","fill":"independent","shape":"independent","size":"independent","strokeDash":"independent"},
"axis": {"x":"independent","y":"independent"}
},
"layer": [
{
"data": {"name":"lines"},
"transform": [{"filter":"datum.panel == 'R'"}],
"mark": {"type":"line","strokeWidth":1.8},
"encoding": {
"x": {"field":"z","type":"quantitative","scale":{"domain":[0,2.36],"nice":false,"zero":false},
 "axis":{"orient":"top","labels":false,"title":null,"values":[0,0.1,0.2,0.3,0.4,0.5,0.6,0.7,0.8,0.9,1,1.1,1.2,1.3,1.4,1.5,1.6,1.7,1.8,1.9,2,2.1,2.2,2.3],
 "tickSize":{"condition":{"test":"round(datum.value*10)%5==0","value":-12},"value":-6}}},
"y": {"field":"r","type":"quantitative","scale":{"domain":[-0.42,15.2],"nice":false,"zero":false},"axis":null},
"stroke": {"field":"series","type":"nominal",
 "scale":{"domain":["8.6 < log(M*[h⁻¹M⊙]) <  9.6","9.6 < log(M*[h⁻¹M⊙]) < 10.6","10.6 < log(M*[h⁻¹M⊙]) < 11.0","11.0 < log(M*[h⁻¹M⊙]) < 12.0"],"range":["#66eeff","#3a8af5","#6a4cf0","#9b78de"]},
 "legend":{"title":"GALFORM","orient":"none","legendX":482,"legendY":10.5,"labelAlign":"right","labelOffset":-50.5,"symbolOffset":124.5,"rowPadding":5,"titlePadding":8.5,"symbolType":"M-3,0H3","symbolSize":289,"symbolStrokeWidth":2,"labelFontSize":19,"titleFontSize":19}},
"strokeDash": {"field":"series","type":"nominal",
 "scale":{"domain":["8.6 < log(M*[h⁻¹M⊙]) <  9.6","9.6 < log(M*[h⁻¹M⊙]) < 10.6","10.6 < log(M*[h⁻¹M⊙]) < 11.0","11.0 < log(M*[h⁻¹M⊙]) < 12.0"],"range":[[2,4],[10,4,2,4,2,4,2,4],[10,5,2,5],[12,8]]}}
}
},
{
"data": {"name":"pts"},
"transform": [{"filter":"datum.panel == 'R'"}],
"mark": {"type":"rule","strokeWidth":1.5},
"encoding": {
"x": {"field":"z","type":"quantitative","scale":{"domain":[0,2.36],"nice":false,"zero":false},
 "axis":{"orient":"bottom","values":[0,0.1,0.2,0.3,0.4,0.5,0.6,0.7,0.8,0.9,1,1.1,1.2,1.3,1.4,1.5,1.6,1.7,1.8,1.9,2,2.1,2.2,2.3],
 "labelExpr":"round(datum.value*10)%5==0 ? format(datum.value,'.1f') : ''",
 "tickSize":{"condition":{"test":"round(datum.value*10)%5==0","value":-12},"value":-6},
 "labelPadding":36,"labelAngle":0,
 "title":"z","titleFontStyle":"italic","titleFontSize":22,"titleColor":"#333","titleX":42,"titleY":60,"titleBaseline":"top","titleAlign":"center"}},
"y": {"field":"lo","type":"quantitative","scale":{"domain":[-0.42,15.2],"nice":false,"zero":false},
 "axis":{"orient":"left","labels":false,"title":null,"values":[0,0.5,1,1.5,2,2.5,3,3.5,4,4.5,5,5.5,6,6.5,7,7.5,8,8.5,9,9.5,10,10.5,11,11.5,12,12.5,13,13.5,14,14.5,15],
 "tickSize":{"condition":{"test":"datum.value%2==0","value":-14},"value":-7}}},
"y2": {"field":"hi"},
"color": {"field":"series","type":"nominal","legend":null,
 "scale":{"domain":["8.6 < log(M*[h⁻¹M⊙]) <  9.6","9.6 < log(M*[h⁻¹M⊙]) < 10.6","10.6 < log(M*[h⁻¹M⊙]) < 11.0","log(M*[h⁻¹M⊙]) > 11.0","Bielby+10 Mʙ~-20.2","Bielby+10 Mʙ~-19.4","Coil+08 Mʙ<-21","Coil+08 Mʙ<-20","McCracken+10, K<22","McCracken+10, K<23"],
 "range":["#1fd6f5","#3a84f2","#2b1fe6","#4a11b5","#333333","#333333","#333333","#5a5a5a","#333333","#333333"]}}
}
},
{
"data": {"name":"pts"},
"transform": [{"filter":"datum.panel == 'R'"}],
"mark": {"type":"tick","orient":"horizontal","size":14,"thickness":1.5},
"encoding": {
"x": {"field":"z","type":"quantitative","scale":{"domain":[0,2.36],"nice":false,"zero":false},"axis":null},
"y": {"field":"lo","type":"quantitative","scale":{"domain":[-0.42,15.2],"nice":false,"zero":false},"axis":null},
"color": {"field":"series","type":"nominal","legend":null,
 "scale":{"domain":["8.6 < log(M*[h⁻¹M⊙]) <  9.6","9.6 < log(M*[h⁻¹M⊙]) < 10.6","10.6 < log(M*[h⁻¹M⊙]) < 11.0","log(M*[h⁻¹M⊙]) > 11.0","Bielby+10 Mʙ~-20.2","Bielby+10 Mʙ~-19.4","Coil+08 Mʙ<-21","Coil+08 Mʙ<-20","McCracken+10, K<22","McCracken+10, K<23"],
 "range":["#1fd6f5","#3a84f2","#2b1fe6","#4a11b5","#333333","#333333","#333333","#5a5a5a","#333333","#333333"]}}
}
},
{
"data": {"name":"pts"},
"transform": [{"filter":"datum.panel == 'R'"}],
"mark": {"type":"tick","orient":"horizontal","size":14,"thickness":1.5},
"encoding": {
"x": {"field":"z","type":"quantitative","scale":{"domain":[0,2.36],"nice":false,"zero":false},"axis":null},
"y": {"field":"hi","type":"quantitative","scale":{"domain":[-0.42,15.2],"nice":false,"zero":false},"axis":null},
"color": {"field":"series","type":"nominal","legend":null,
 "scale":{"domain":["8.6 < log(M*[h⁻¹M⊙]) <  9.6","9.6 < log(M*[h⁻¹M⊙]) < 10.6","10.6 < log(M*[h⁻¹M⊙]) < 11.0","log(M*[h⁻¹M⊙]) > 11.0","Bielby+10 Mʙ~-20.2","Bielby+10 Mʙ~-19.4","Coil+08 Mʙ<-21","Coil+08 Mʙ<-20","McCracken+10, K<22","McCracken+10, K<23"],
 "range":["#1fd6f5","#3a84f2","#2b1fe6","#4a11b5","#333333","#333333","#333333","#5a5a5a","#333333","#333333"]}}
}
},
{
"data": {"name":"pts"},
"transform": [{"filter":"datum.panel == 'R'"},{"filter":{"field":"series","oneOf":["8.6 < log(M*[h⁻¹M⊙]) <  9.6","9.6 < log(M*[h⁻¹M⊙]) < 10.6","10.6 < log(M*[h⁻¹M⊙]) < 11.0","log(M*[h⁻¹M⊙]) > 11.0"]}}],
"mark": {"type":"point","strokeWidth":2,"opacity":1,"size":225},
"encoding": {
"x": {"field":"z","type":"quantitative","scale":{"domain":[0,2.36],"nice":false,"zero":false},"axis":null},
"y": {"field":"r","type":"quantitative","scale":{"domain":[-0.42,15.2],"nice":false,"zero":false},"axis":null},
"shape": {"field":"series","type":"nominal","scale":{"domain":["8.6 < log(M*[h⁻¹M⊙]) <  9.6","9.6 < log(M*[h⁻¹M⊙]) < 10.6","10.6 < log(M*[h⁻¹M⊙]) < 11.0","log(M*[h⁻¹M⊙]) > 11.0"],"range":["triangle-up","square","M-1,-1L1,1M-1,1L1,-1","circle"]},
 "legend":{"title":"\u00a0\u00a0\u00a0\u00a0\u00a0WIRDS","orient":"none","legendX":16.5,"legendY":10.5,"labelOffset":11.5,"rowPadding":5,"titlePadding":8.5,"symbolSize":225,"labelFontSize":19,"titleFontSize":19}},
"stroke": {"field":"series","type":"nominal","scale":{"domain":["8.6 < log(M*[h⁻¹M⊙]) <  9.6","9.6 < log(M*[h⁻¹M⊙]) < 10.6","10.6 < log(M*[h⁻¹M⊙]) < 11.0","log(M*[h⁻¹M⊙]) > 11.0"],"range":["#1fd6f5","#3a84f2","#2b1fe6","#4a11b5"]}},
"fill": {"field":"series","type":"nominal","scale":{"domain":["8.6 < log(M*[h⁻¹M⊙]) <  9.6","9.6 < log(M*[h⁻¹M⊙]) < 10.6","10.6 < log(M*[h⁻¹M⊙]) < 11.0","log(M*[h⁻¹M⊙]) > 11.0"],"range":["transparent","transparent","transparent","#4a11b5"]}}
}
},
{
"data": {"name":"pts"},
"transform": [{"filter":"datum.panel == 'R'"},{"filter":{"field":"series","oneOf":["Bielby+10 Mʙ~-20.2","Bielby+10 Mʙ~-19.4"]}}],
"mark": {"type":"point","strokeWidth":2.2,"opacity":1},
"encoding": {
"x": {"field":"z","type":"quantitative","scale":{"domain":[0,2.36],"nice":false,"zero":false},"axis":null},
"y": {"field":"r","type":"quantitative","scale":{"domain":[-0.42,15.2],"nice":false,"zero":false},"axis":null},
"shape": {"field":"series","type":"nominal","scale":{"domain":["Bielby+10 Mʙ~-20.2","Bielby+10 Mʙ~-19.4"],"range":["circle","circle"]},
 "legend":{"title":null,"orient":"none","legendX":16,"legendY":454.5,"labelOffset":7,"rowPadding":1,"labelFontSize":20}},
"size": {"field":"series","type":"nominal","scale":{"type":"point","domain":["Bielby+10 Mʙ~-20.2","Bielby+10 Mʙ~-19.4"],"range":[324,225],"padding":0}},
"stroke": {"field":"series","type":"nominal","scale":{"domain":["Bielby+10 Mʙ~-20.2","Bielby+10 Mʙ~-19.4"],"range":["#333333","#333333"]}},
"fill": {"field":"series","type":"nominal","scale":{"domain":["Bielby+10 Mʙ~-20.2","Bielby+10 Mʙ~-19.4"],"range":["transparent","transparent"]}}
}
},
{
"data": {"name":"pts"},
"transform": [{"filter":"datum.panel == 'R'"},{"filter":{"field":"series","oneOf":["Coil+08 Mʙ<-21","Coil+08 Mʙ<-20"]}}],
"mark": {"type":"point","strokeWidth":1.5,"opacity":1},
"encoding": {
"x": {"field":"z","type":"quantitative","scale":{"domain":[0,2.36],"nice":false,"zero":false},"axis":null},
"y": {"field":"r","type":"quantitative","scale":{"domain":[-0.42,15.2],"nice":false,"zero":false},"axis":null},
"shape": {"field":"series","type":"nominal","scale":{"domain":["Coil+08 Mʙ<-21","Coil+08 Mʙ<-20"],"range":["square","square"]},
 "legend":{"title":null,"orient":"none","legendX":238,"legendY":455,"labelOffset":7,"rowPadding":3,"labelFontSize":20}},
"size": {"field":"series","type":"nominal","scale":{"type":"point","domain":["Coil+08 Mʙ<-21","Coil+08 Mʙ<-20"],"range":[289,144],"padding":0}},
"stroke": {"field":"series","type":"nominal","scale":{"domain":["Coil+08 Mʙ<-21","Coil+08 Mʙ<-20"],"range":["#333333","#5a5a5a"]}},
"fill": {"field":"series","type":"nominal","scale":{"domain":["Coil+08 Mʙ<-21","Coil+08 Mʙ<-20"],"range":["#333333","#5a5a5a"]}}
}
},
{
"data": {"name":"pts"},
"transform": [{"filter":"datum.panel == 'R'"},{"filter":{"field":"series","oneOf":["McCracken+10, K<22","McCracken+10, K<23"]}}],
"mark": {"type":"point","strokeWidth":2.2,"opacity":1},
"encoding": {
"x": {"field":"z","type":"quantitative","scale":{"domain":[0,2.36],"nice":false,"zero":false},"axis":null},
"y": {"field":"r","type":"quantitative","scale":{"domain":[-0.42,15.2],"nice":false,"zero":false},"axis":null},
"shape": {"field":"series","type":"nominal","scale":{"domain":["McCracken+10, K<22","McCracken+10, K<23"],"range":["M0,-1L0.26,-0.36L0.95,-0.31L0.42,0.14L0.59,0.81L0,0.44L-0.59,0.81L-0.42,0.14L-0.95,-0.31L-0.26,-0.36Z","M0,-1L0.26,-0.36L0.95,-0.31L0.42,0.14L0.59,0.81L0,0.44L-0.59,0.81L-0.42,0.14L-0.95,-0.31L-0.26,-0.36Z"]},
 "legend":{"title":null,"orient":"none","legendX":427,"legendY":449,"labelOffset":2,"rowPadding":-3,"labelFontSize":20}},
"size": {"field":"series","type":"nominal","scale":{"type":"point","domain":["McCracken+10, K<22","McCracken+10, K<23"],"range":[784,400],"padding":0}},
"stroke": {"field":"series","type":"nominal","scale":{"domain":["McCracken+10, K<22","McCracken+10, K<23"],"range":["#333333","#333333"]}},
"fill": {"field":"series","type":"nominal","scale":{"domain":["McCracken+10, K<22","McCracken+10, K<23"],"range":["transparent","transparent"]}}
}
}
]
}
],
"config": {
"view": {"stroke": null},
"axis": {"labelFont":"Liberation Sans","labelFontSize":22,"labelColor":"#444","domainColor":"#333","domainWidth":2,"tickColor":"#333","tickWidth":1.5,"grid":false,"titleFont":"Liberation Sans","titleColor":"#444","titleFontWeight":"normal","labelFlush":false,"labelOverlap":false,"labelBound":false},
"legend": {"labelFont":"Liberation Sans","labelFontSize":18,"labelColor":"#444","titleFont":"Liberation Sans","titleFontSize":18,"titleFontWeight":"normal","titleColor":"#444","padding":0,"labelLimit":600,"symbolStrokeWidth":2}
}
}
